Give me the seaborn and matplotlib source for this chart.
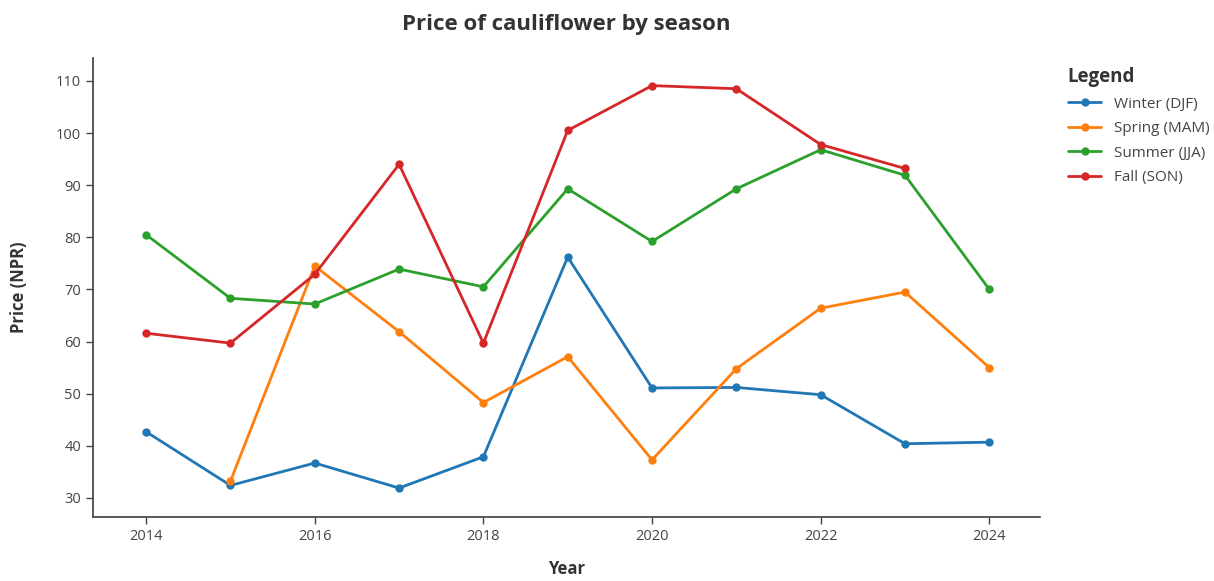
import numpy as np
import pandas as pd
import matplotlib
matplotlib.use("Agg")
import matplotlib.pyplot as plt
import seaborn as sns

years = [2014, 2015, 2016, 2017, 2018, 2019, 2020, 2021, 2022, 2023, 2024]
winter = [42.7, 32.4, 36.7, 31.9, 37.9, 76.2, 51.1, 51.2, 49.8, 40.4, 40.7]
spring = [np.nan, 33.2, 74.5, 61.9, 48.3, 57.1, 37.3, 54.8, 66.4, 69.5, 55.0]
summer = [80.5, 68.3, 67.2, 73.9, 70.5, 89.3, 79.2, 89.3, 96.8, 91.9, 70.0]
fall = [61.6, 59.7, 72.9, 94.0, 59.7, 100.5, 109.1, 108.5, 97.8, 93.2, np.nan]
seasons = ["Winter (DJF)", "Spring (MAM)", "Summer (JJA)", "Fall (SON)"]

# long format for seaborn
df = pd.DataFrame({"Year": years * 4,
                   "Price": winter + spring + summer + fall,
                   "Season": [s for s in seasons for _ in years]}).dropna()

sns.set_theme(style="ticks")
plt.rcParams["font.family"] = ["Open Sans", "DejaVu Sans"]

fig = plt.figure(figsize=(12.14, 5.81), dpi=100)
ax = fig.add_axes([0.0766, 0.1102, 0.78, 0.79])

sns.lineplot(data=df, x="Year", y="Price", hue="Season", hue_order=seasons,
             palette=["#1f77b4", "#ff7f0e", "#2ca02c", "#d62728"],
             marker="o", markersize=6, markeredgewidth=0, linewidth=2, ax=ax)

ax.set_xlim(2013.37, 2024.6)
ax.set_ylim(26.35, 114.4)
ax.set_xticks([2014, 2016, 2018, 2020, 2022, 2024])
ax.set_yticks(range(30, 111, 10))
ax.tick_params(colors="#444444", labelsize=10.5, length=5, width=1)
for side in ["left", "bottom"]:
    ax.spines[side].set_color("#444444")
sns.despine(ax=ax)

ax.set_title("Price of cauliflower by season", fontsize=16, fontweight="bold",
             color="#333333", pad=20)
ax.set_xlabel("Year", fontsize=12, fontweight="bold", color="#333333", labelpad=12)
ax.set_ylabel("Price (NPR)", fontsize=12, fontweight="bold", color="#333333", labelpad=20)

leg = ax.legend(title="Legend", loc="upper left", bbox_to_anchor=(1.015, 1.01),
                frameon=False, fontsize=11, handlelength=2.2, labelspacing=0.62)
leg.get_title().set_fontweight("bold")
leg.get_title().set_fontsize(13.5)
leg.get_title().set_color("#333333")
leg._legend_box.align = "left"
for t in leg.get_texts():
    t.set_color("#444444")

fig.savefig("out.png", dpi=100)
